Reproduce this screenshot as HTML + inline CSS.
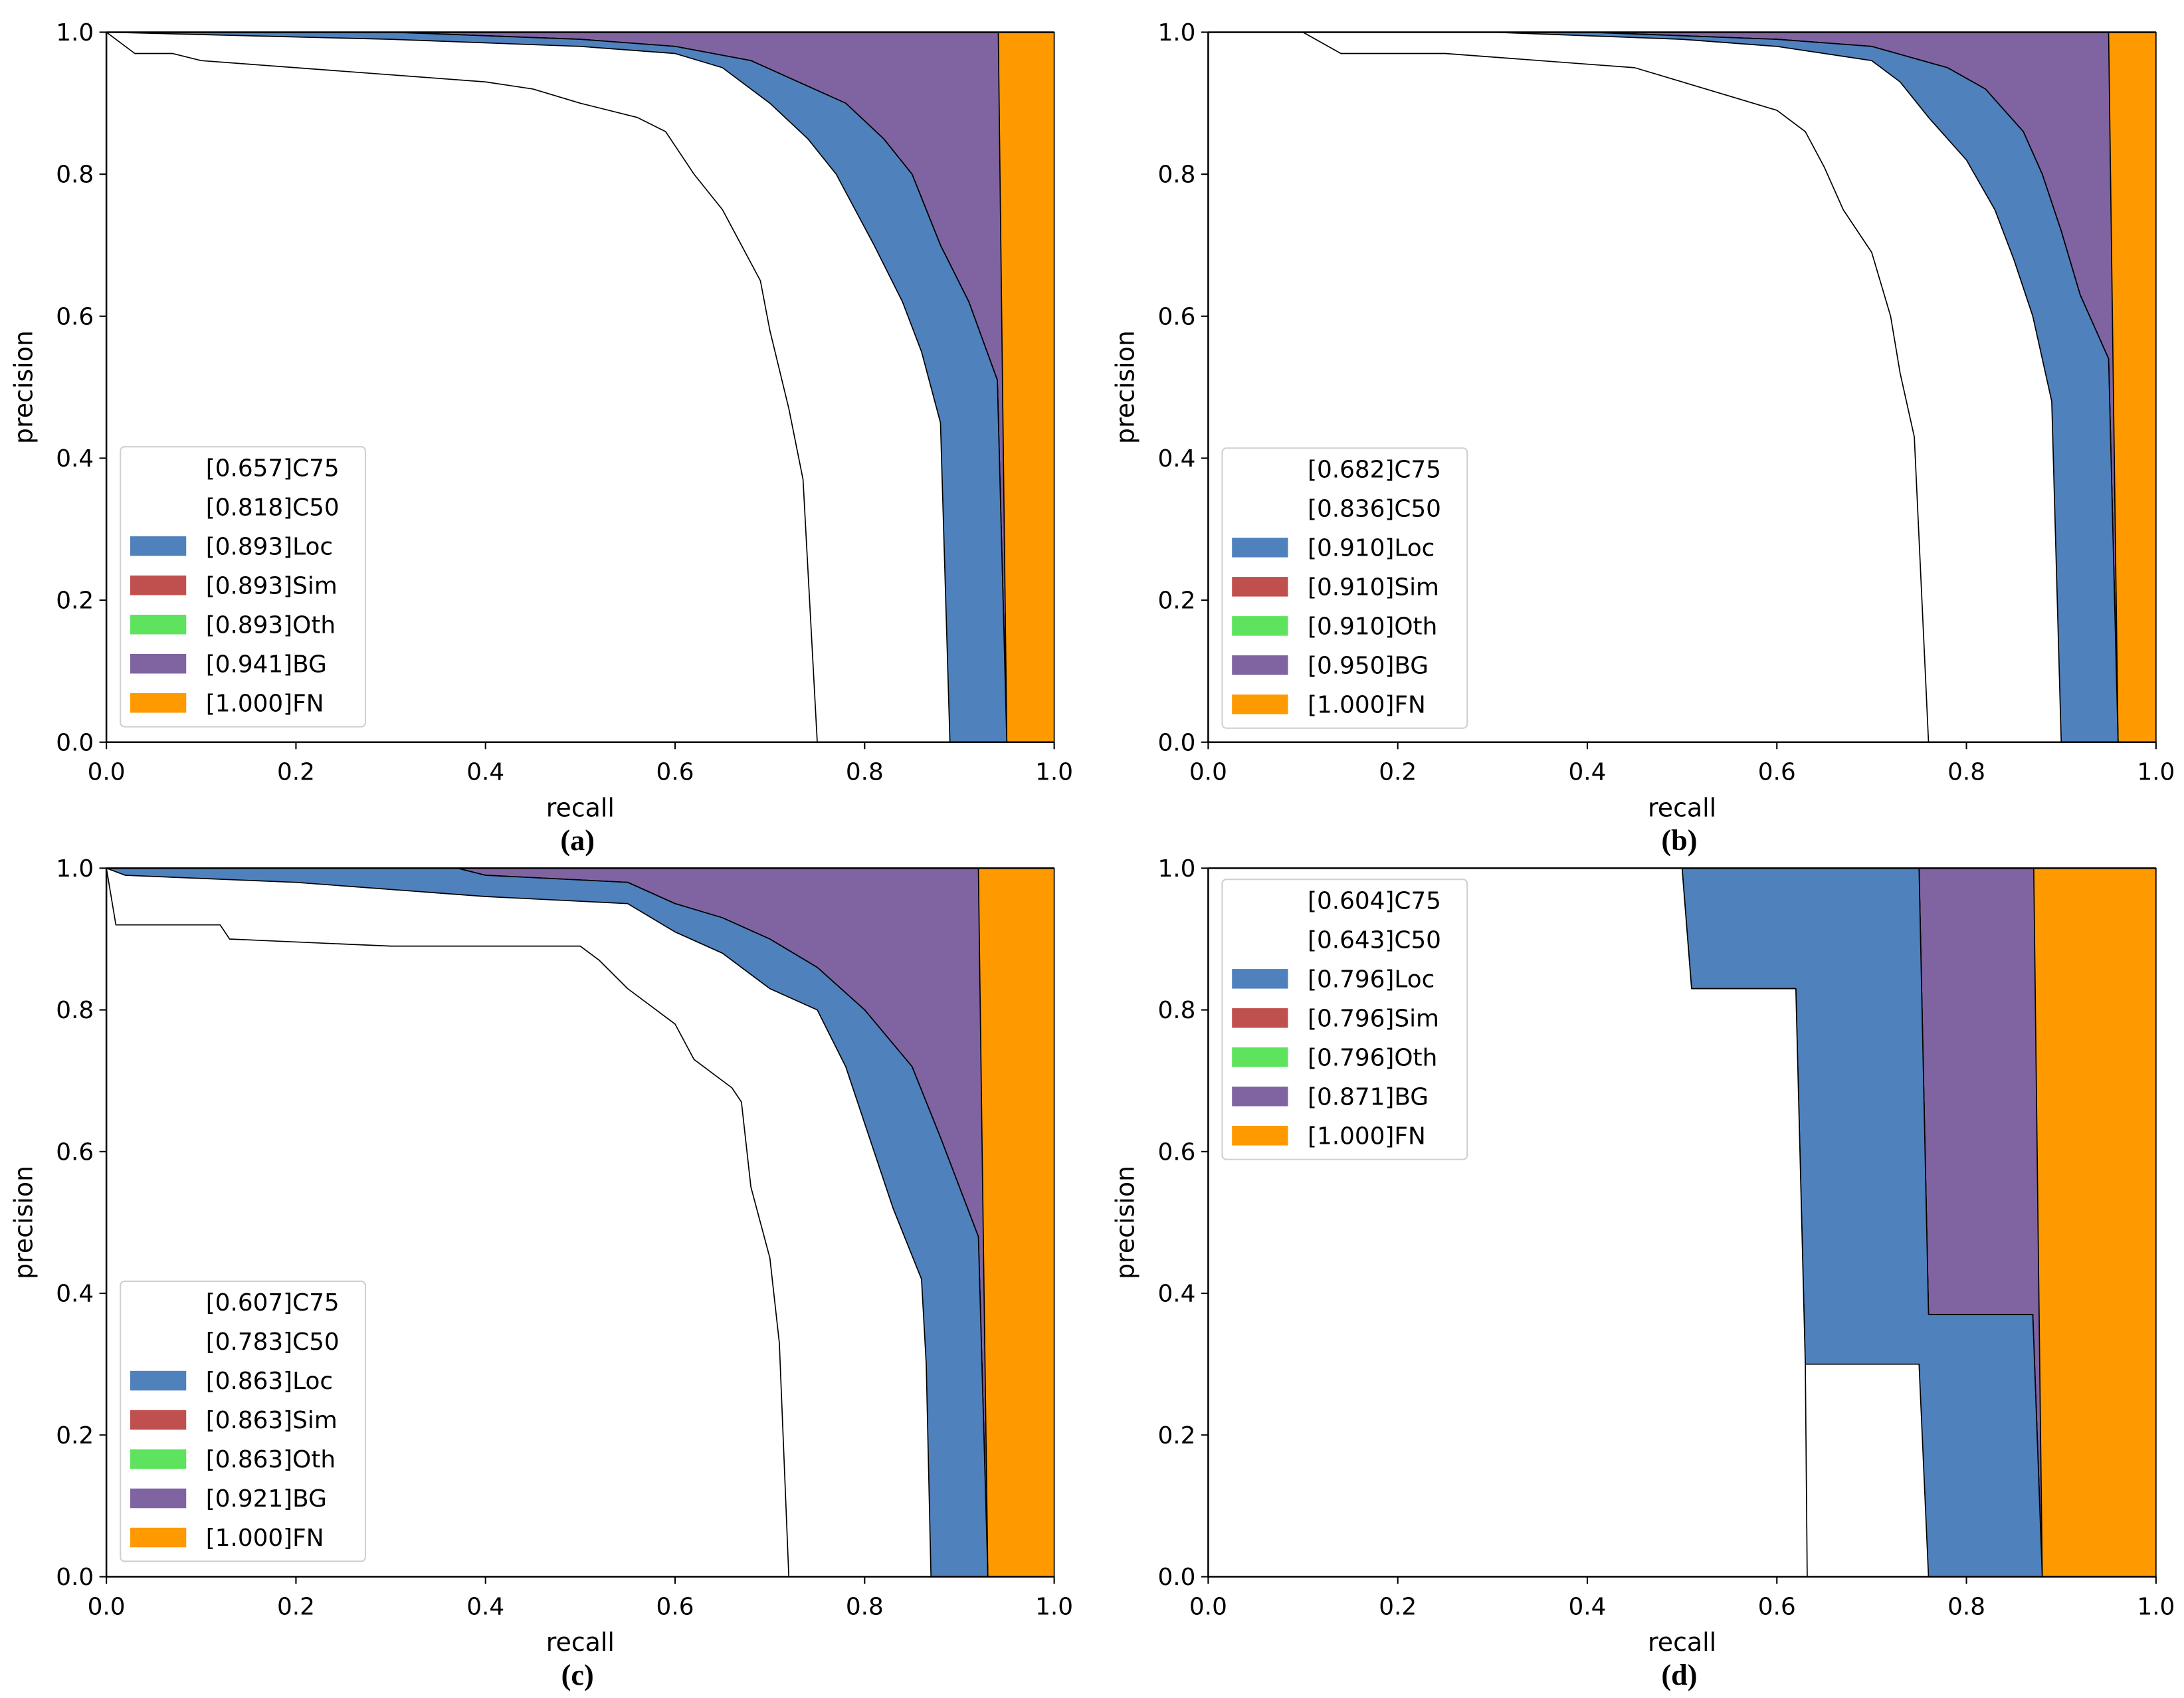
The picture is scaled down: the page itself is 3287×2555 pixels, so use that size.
<!DOCTYPE html>
<html><head><meta charset="utf-8">
<style>
html,body{margin:0;padding:0;background:#fff;}
svg{display:block;}
text{font-family:"DejaVu Sans","Liberation Sans",sans-serif;}
text.cap{font-family:"Liberation Serif",serif;}
</style></head>
<body>
<svg id="fig" width="3287" height="2555" viewBox="0 0 1560 1212.6" preserveAspectRatio="none" xmlns="http://www.w3.org/2000/svg"></svg>
<script>
// ---- data ----
const legendLabels = ["C75","C50","Loc","Sim","Oth","BG","FN"];
const legendColors = [null,null,"#4f81bd","#c0504d","#5ee35e","#8064a2","#ff9900"];
const apA = ["0.657","0.818","0.893","0.893","0.893","0.941","1.000"];
const apB = ["0.682","0.836","0.910","0.910","0.910","0.950","1.000"];
const apC = ["0.607","0.783","0.863","0.863","0.863","0.921","1.000"];
const apD = ["0.604","0.643","0.796","0.796","0.796","0.871","1.000"];
const xTicks = [0,0.2,0.4,0.6,0.8,1.0];
const yTicks = [0,0.2,0.4,0.6,0.8,1.0];

const aC75 = [[0,1],[0.03,0.97],[0.07,0.97],[0.1,0.96],[0.2,0.95],[0.3,0.94],[0.4,0.93],[0.45,0.92],[0.5,0.90],[0.56,0.88],[0.59,0.86],[0.62,0.80],[0.65,0.75],[0.67,0.70],[0.69,0.65],[0.70,0.58],[0.72,0.47],[0.735,0.37],[0.75,0]];
const aC50 = [[0,1],[0.3,0.99],[0.5,0.98],[0.6,0.97],[0.65,0.95],[0.7,0.90],[0.74,0.85],[0.77,0.80],[0.81,0.70],[0.84,0.62],[0.86,0.55],[0.88,0.45],[0.89,0]];
const aLoc = [[0,1],[0.3,1],[0.5,0.99],[0.6,0.98],[0.68,0.96],[0.73,0.93],[0.78,0.90],[0.82,0.85],[0.85,0.80],[0.88,0.70],[0.91,0.62],[0.94,0.51],[0.95,0]];
const aBG = [[0,1],[0.941,1],[0.95,0]];

const bC75 = [[0,1],[0.1,1],[0.14,0.97],[0.25,0.97],[0.35,0.96],[0.45,0.95],[0.5,0.93],[0.55,0.91],[0.6,0.89],[0.63,0.86],[0.65,0.81],[0.67,0.75],[0.7,0.69],[0.72,0.60],[0.73,0.52],[0.745,0.43],[0.76,0]];
const bC50 = [[0,1],[0.3,1],[0.5,0.99],[0.6,0.98],[0.7,0.96],[0.73,0.93],[0.76,0.88],[0.8,0.82],[0.83,0.75],[0.85,0.68],[0.87,0.60],[0.89,0.48],[0.9,0]];
const bLoc = [[0,1],[0.4,1],[0.6,0.99],[0.7,0.98],[0.78,0.95],[0.82,0.92],[0.86,0.86],[0.88,0.80],[0.9,0.72],[0.92,0.63],[0.94,0.57],[0.95,0.54],[0.96,0]];
const bBG = [[0,1],[0.95,1],[0.96,0]];

const cC75 = [[0,1],[0.01,0.92],[0.12,0.92],[0.13,0.90],[0.3,0.89],[0.5,0.89],[0.52,0.87],[0.55,0.83],[0.6,0.78],[0.62,0.73],[0.66,0.69],[0.67,0.67],[0.68,0.55],[0.70,0.45],[0.71,0.33],[0.72,0]];
const cC50 = [[0,1],[0.02,0.99],[0.2,0.98],[0.4,0.96],[0.55,0.95],[0.6,0.91],[0.65,0.88],[0.7,0.83],[0.75,0.80],[0.78,0.72],[0.81,0.60],[0.83,0.52],[0.86,0.42],[0.865,0.3],[0.87,0]];
const cLoc = [[0,1],[0.37,1],[0.4,0.99],[0.55,0.98],[0.6,0.95],[0.65,0.93],[0.7,0.90],[0.75,0.86],[0.8,0.80],[0.85,0.72],[0.88,0.62],[0.90,0.55],[0.92,0.48],[0.93,0]];
const cBG = [[0,1],[0.92,1],[0.93,0]];

const dC75 = [[0,1],[0.5,1],[0.51,0.83],[0.62,0.83],[0.63,0.30],[0.632,0]];
const dC50 = [[0,1],[0.5,1],[0.51,0.83],[0.62,0.83],[0.63,0.30],[0.75,0.30],[0.76,0]];
const dLoc = [[0,1],[0.75,1],[0.76,0.37],[0.87,0.37],[0.88,0]];
const dBG = [[0,1],[0.871,1],[0.88,0]];

const panels = [
 {id:"a",x0:76,x1:753,y0:23,y1:530,ap:apA,c75:aC75,c50:aC50,loc:aLoc,bg:aBG,lx:86,ly:319,tl:"(a)"},
 {id:"b",x0:863,x1:1540,y0:23,y1:530,ap:apB,c75:bC75,c50:bC50,loc:bLoc,bg:bBG,lx:873,ly:320,tl:"(b)"},
 {id:"c",x0:76,x1:753,y0:620,y1:1126,ap:apC,c75:cC75,c50:cC50,loc:cLoc,bg:cBG,lx:86,ly:915,tl:"(c)"},
 {id:"d",x0:863,x1:1540,y0:620,y1:1126,ap:apD,c75:dC75,c50:dC50,loc:dLoc,bg:dBG,lx:873,ly:628,tl:"(d)"}
];

const NS="http://www.w3.org/2000/svg";
const fig=document.getElementById('fig');
function mk(tag,attrs,parent){const e=document.createElementNS(NS,tag);for(const k in attrs)e.setAttribute(k,attrs[k]);(parent||fig).appendChild(e);return e;}

panels.forEach(p=>{
  const sx=v=>p.x0+v*(p.x1-p.x0);
  const sy=v=>p.y1-v*(p.y1-p.y0);
  const g=mk('g',{});
  
  
  const area=(pts,fill,name)=>{
    let d='M'+sx(0)+','+sy(0);
    pts.forEach(q=>{d+=' L'+sx(q[0])+','+sy(q[1]);});
    d+=' Z';
    const e=mk('path',{d:d,fill:fill,stroke:'#000','stroke-width':0.8,'stroke-linejoin':'round'},g);
    
    
  };
  area([[0,1],[1,1],[1,0]],'#ff9900','fn-area');
  area(p.bg,'#8064a2','bg-area');
  area(p.loc,'#5ee35e','oth-area');
  area(p.loc,'#c0504d','sim-area');
  area(p.loc,'#4f81bd','loc-area');
  area(p.c50,'#ffffff','c50-area');
  area(p.c75,'#ffffff','c75-area');
  const ax=mk('path',{d:`M${p.x0},${p.y0} V${p.y1} H${p.x1} M${p.x0},${p.y0} H${p.x1}`,fill:'none',stroke:'#000','stroke-width':1.2},g);
  
  
  xTicks.forEach(t=>{
    mk('line',{x1:sx(t),x2:sx(t),y1:p.y1,y2:p.y1+5,stroke:'#000','stroke-width':1},g);
    const tx=mk('text',{x:sx(t),y:p.y1+27,'font-size':17,'text-anchor':'middle'},g);
    tx.textContent=t.toFixed(1);
    
    
  });
  yTicks.forEach(t=>{
    mk('line',{x1:p.x0-5,x2:p.x0,y1:sy(t),y2:sy(t),stroke:'#000','stroke-width':1},g);
    const tx=mk('text',{x:p.x0-9,y:sy(t)+6,'font-size':17,'text-anchor':'end'},g);
    tx.textContent=t.toFixed(1);
    
    
  });
  const xl=mk('text',{x:(p.x0+p.x1)/2,y:p.y1+53,'font-size':18,'text-anchor':'middle'},g);
  xl.textContent='recall';
  
  
  const yc=(p.y0+p.y1)/2;
  const yl=mk('text',{x:p.x0-53,y:yc,'font-size':18,'text-anchor':'middle',transform:`rotate(-90 ${p.x0-53} ${yc})`},g);
  yl.textContent='precision';
  
  
  const tl=mk('text',{x:(p.x0+p.x1)/2-2,y:p.y1+77,'font-size':21,'font-weight':'bold','text-anchor':'middle','class':'cap'},g);
  tl.textContent=p.tl;
  
  
  const lg=mk('g',{},g);
  
  
  mk('rect',{x:p.lx,y:p.ly,width:175,height:200,rx:3,fill:'#fff','fill-opacity':0.85,stroke:'#d0d0d0','stroke-width':1},lg);
  legendLabels.forEach((lab,i)=>{
    const cy=p.ly+15+i*28;
    if(legendColors[i]){
      const r=mk('rect',{x:p.lx+7,y:cy-7,width:40,height:14,fill:legendColors[i]},lg);
      
      
    }
    const t=mk('text',{x:p.lx+61,y:cy+6,'font-size':17},lg);
    t.textContent='['+p.ap[i]+']'+lab;
    
    
  });
});
</script>
</body></html>
